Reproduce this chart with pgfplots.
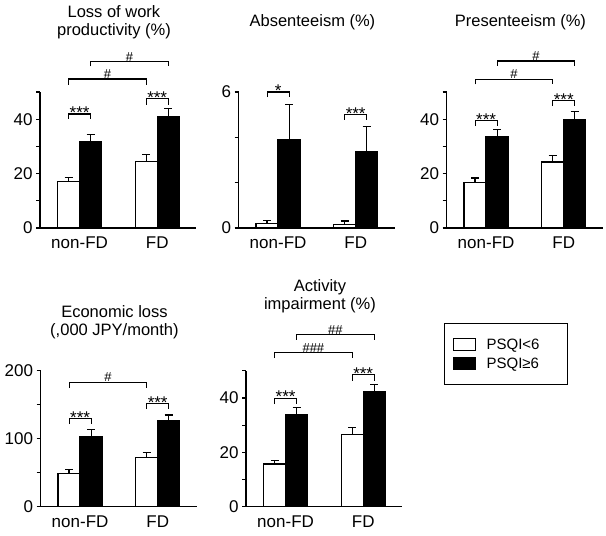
\documentclass[border=0pt]{standalone}
\usepackage{fontspec}
\setmainfont{Liberation Sans}
\usepackage{pgfplots}
\pgfplotsset{compat=1.18}

\pgfplotsset{
  panel/.style={
    scale only axis, width=156pt, height=136pt,
    anchor=south west,
    xmin=-0.51, xmax=1.5, ymin=0,
    axis x line=bottom, axis y line=left,
    axis line style={-, line width=1.3pt},
    xtick={0,1}, xticklabels={non-FD,FD},
    x tick style={draw=none},
    y tick style={line width=1.2pt, black},
    tick align=outside, major tick length=4pt,
    clip=false,
    font=\fontsize{16}{18}\selectfont,
    tick label style={font=\fontsize{17}{19}\selectfont},
    xticklabel style={yshift=-1.5pt},
    /pgf/number format/assume math mode=true,
    every axis title shift=0pt,
    title style={font=\fontsize{16.5}{18}\selectfont, align=center, anchor=center},
  },
  errs/.style={
    error bars/y dir=plus, error bars/y explicit,
    error bars/error mark=|,
    error bars/error bar style={line width=1.2pt, black},
    error bars/error mark options={line width=1.2pt, mark size=4pt, black}},
  wbar/.style={ybar, bar width=0.284, bar shift=0pt, fill=white, draw=black, line width=1.2pt, errs},
  bbar/.style={ybar, bar width=0.284, bar shift=0pt, fill=black, draw=black, line width=1.2pt, errs},
  brk/.style={sharp plot, no marks, black, line width=1.1pt, forget plot},
}
\tikzset{
  star/.style={font=\fontsize{17}{17}\selectfont, anchor=base, inner sep=0pt, yshift=-4.5pt},
  hash/.style={font=\fontsize{13}{13}\selectfont, anchor=base, inner sep=0pt, yshift=0.5pt},
}

\begin{document}
\begin{tikzpicture}
\useasboundingbox (0pt,0pt) rectangle (606pt,-536pt);

% Panel 1
\begin{axis}[panel, at={(40pt,-228pt)}, ymax=50,
  ytick={0,10,20,30,40,50}, yticklabels={0,,20,,40,},
  title={Loss of work\\productivity (\%)}, title style={at={(0.474,1.515)}}]
\addplot[wbar] coordinates {(-0.142,17.0) +- (0,1.5) (0.858,24.4) +- (0,2.6)};
\addplot[bbar] coordinates {(0.142,31.6) +- (0,2.9) (1.142,41.1) +- (0,2.7)};
\addplot[brk] coordinates {(-0.142,40.2) (-0.142,41.9) (0.142,41.9) (0.142,40.2)};
\addplot[brk] coordinates {(0.858,45.3) (0.858,47.5) (1.142,47.5) (1.142,45.3)};
\addplot[brk] coordinates {(-0.142,52.6) (-0.142,54.8) (0.858,54.8) (0.858,52.6)};
\addplot[brk] coordinates {(0.142,59.4) (0.142,61.2) (1.142,61.2) (1.142,59.4)};
\node[star] at (axis cs:0,41.9) {***};
\node[star] at (axis cs:1,47.5) {***};
\node[hash] at (axis cs:0.358,54.8) {\#};
\node[hash] at (axis cs:0.642,61.2) {\#};
\end{axis}

% Panel 2
\begin{axis}[panel, at={(238.5pt,-228pt)}, ymax=6,
  ytick={0,2,4,6}, yticklabels={0,,,6},
  title={Absenteeism (\%)}, title style={at={(0.474,1.515)}}]
\addplot[wbar] coordinates {(-0.142,0.19) +- (0,0.15) (0.858,0.16) +- (0,0.15)};
\addplot[bbar] coordinates {(0.142,3.88) +- (0,1.58) (1.142,3.35) +- (0,1.12)};
\addplot[brk] coordinates {(-0.142,5.77) (-0.142,6.0) (0.142,6.0) (0.142,5.77)};
\addplot[brk] coordinates {(0.858,4.77) (0.858,4.99) (1.142,4.99) (1.142,4.77)};
\node[star] at (axis cs:0,6.0) {*};
\node[star] at (axis cs:1,4.99) {***};
\end{axis}

% Panel 3
\begin{axis}[panel, at={(446.5pt,-228pt)}, ymax=50,
  ytick={0,10,20,30,40,50}, yticklabels={0,,20,,40,},
  title={Presenteeism (\%)}, title style={at={(0.474,1.515)}}]
\addplot[wbar] coordinates {(-0.142,16.6) +- (0,1.8) (0.858,24.3) +- (0,2.5)};
\addplot[bbar] coordinates {(0.142,33.5) +- (0,2.7) (1.142,40.0) +- (0,2.7)};
\addplot[brk] coordinates {(-0.142,37.5) (-0.142,39.4) (0.142,39.4) (0.142,37.5)};
\addplot[brk] coordinates {(0.858,44.8) (0.858,46.8) (1.142,46.8) (1.142,44.8)};
\addplot[brk] coordinates {(-0.142,52.8) (-0.142,54.7) (0.858,54.7) (0.858,52.8)};
\addplot[brk] coordinates {(0.142,59.6) (0.142,61.4) (1.142,61.4) (1.142,59.6)};
\node[star] at (axis cs:0,39.4) {***};
\node[star] at (axis cs:1,46.8) {***};
\node[hash] at (axis cs:0.358,54.7) {\#};
\node[hash] at (axis cs:0.642,61.4) {\#};
\end{axis}

% Panel 4
\begin{axis}[panel, at={(40.5pt,-506.7pt)}, ymax=200,
  ytick={0,50,100,150,200}, yticklabels={0,,100,,200},
  title={Economic loss\\(,000 JPY/month)}, title style={at={(0.474,1.353)}}]
\addplot[wbar] coordinates {(-0.142,49.2) +- (0,5.8) (0.858,72.2) +- (0,7.4)};
\addplot[bbar] coordinates {(0.142,103.2) +- (0,10.8) (1.142,126.7) +- (0,8.3)};
\addplot[brk] coordinates {(-0.142,121.5) (-0.142,129.7) (0.142,129.7) (0.142,121.5)};
\addplot[brk] coordinates {(0.858,143.5) (0.858,151.4) (1.142,151.4) (1.142,143.5)};
\addplot[brk] coordinates {(-0.142,174.5) (-0.142,182.7) (0.858,182.7) (0.858,174.5)};
\node[star] at (axis cs:0,129.7) {***};
\node[star] at (axis cs:1,151.4) {***};
\node[hash] at (axis cs:0.358,182.7) {\#};
\end{axis}

% Panel 5
\begin{axis}[panel, at={(246pt,-506.7pt)}, ymax=50,
  ytick={0,10,20,30,40,50}, yticklabels={0,,20,,40,},
  title={Activity\\impairment (\%)}, title style={at={(0.474,1.546)}},
  legend style={at={(1.27,1.349)}, anchor=north west, draw=black, line width=1pt,
    font=\fontsize{15}{17}\selectfont, nodes={inner sep=2pt},
    inner xsep=8pt, inner ysep=13pt, row sep=3pt,
    cells={anchor=west}}]
\addlegendimage{legend image code/.code={\draw[fill=white,draw=black,line width=1pt] (0pt,-6pt) rectangle (22pt,6pt);}}
\addlegendentry{\hspace*{9pt}PSQI<6\hspace*{18pt}}
\addlegendimage{legend image code/.code={\draw[fill=black,draw=black,line width=1pt] (0pt,-6pt) rectangle (22pt,6pt);}}
\addlegendentry{\hspace*{9pt}PSQI≥6\hspace*{18pt}}
\addplot[forget plot, wbar] coordinates {(-0.142,15.7) +- (0,1.3) (0.858,26.5) +- (0,2.5)};
\addplot[forget plot, bbar] coordinates {(0.142,33.7) +- (0,2.7) (1.142,42.2) +- (0,2.6)};
\addplot[brk] coordinates {(-0.142,37.7) (-0.142,39.9) (0.142,39.9) (0.142,37.7)};
\addplot[brk] coordinates {(0.858,46.3) (0.858,48.5) (1.142,48.5) (1.142,46.3)};
\addplot[brk] coordinates {(-0.142,54.6) (-0.142,56.6) (0.858,56.6) (0.858,54.6)};
\addplot[brk] coordinates {(0.142,61.3) (0.142,63.3) (1.142,63.3) (1.142,61.3)};
\node[star] at (axis cs:0,39.9) {***};
\node[star] at (axis cs:1,48.5) {***};
\node[hash] at (axis cs:0.358,56.6) {\#\#\#};
\node[hash] at (axis cs:0.642,63.3) {\#\#};
\end{axis}
\end{tikzpicture}
\end{document}
